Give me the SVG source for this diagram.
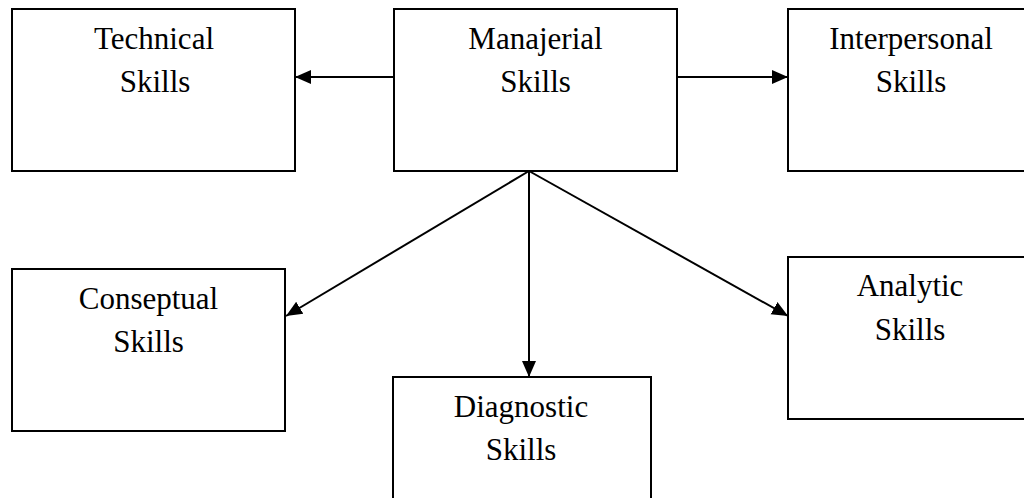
<svg xmlns="http://www.w3.org/2000/svg" width="1024" height="498" viewBox="0 0 1024 498">
<style>
.box{fill:#fff;stroke:#000;stroke-width:2}
.lbl{font-family:"Liberation Serif","Times New Roman",serif;font-size:31px;fill:#000;text-anchor:middle}
.con{stroke:#000;stroke-width:2;fill:none;marker-end:url(#ah)}
</style>
<defs>
<marker id="ah" markerUnits="userSpaceOnUse" markerWidth="16" markerHeight="16" viewBox="0 0 16 16" refX="16" refY="8" orient="auto">
<path d="M0,1 L16,8 L0,15 Z" fill="#000"/>
</marker>
</defs>
<rect width="1024" height="498" fill="#fff"/>
<g id="connectors">
<line class="con" x1="394" y1="77" x2="295" y2="77"/>
<line class="con" x1="677" y1="77" x2="788" y2="77"/>
<line class="con" x1="529" y1="171" x2="286" y2="316"/>
<line class="con" x1="529" y1="171" x2="529" y2="377"/>
<line class="con" x1="529" y1="171" x2="788" y2="316"/>
</g>
<g id="technical">
<rect class="box" x="12" y="9" width="283" height="162"/>
<text class="lbl" x="154" y="49">Technical</text>
<text class="lbl" x="155" y="92">Skills</text>
</g>
<g id="managerial">
<rect class="box" x="394" y="9" width="283" height="162"/>
<text class="lbl" x="535.5" y="48.5">Manajerial</text>
<text class="lbl" x="535.5" y="92">Skills</text>
</g>
<g id="interpersonal">
<rect class="box" x="788" y="9" width="250" height="162"/>
<text class="lbl" x="911" y="49">Interpersonal</text>
<text class="lbl" x="911" y="92">Skills</text>
</g>
<g id="conceptual">
<rect class="box" x="12" y="269" width="273" height="162"/>
<text class="lbl" x="148.5" y="308.5">Conseptual</text>
<text class="lbl" x="148.5" y="352">Skills</text>
</g>
<g id="diagnostic">
<rect class="box" x="393" y="377" width="258" height="140"/>
<text class="lbl" x="521" y="417">Diagnostic</text>
<text class="lbl" x="521" y="460">Skills</text>
</g>
<g id="analytic">
<rect class="box" x="788" y="257" width="250" height="162"/>
<text class="lbl" x="910" y="296">Analytic</text>
<text class="lbl" x="910" y="340">Skills</text>
</g>
</svg>
